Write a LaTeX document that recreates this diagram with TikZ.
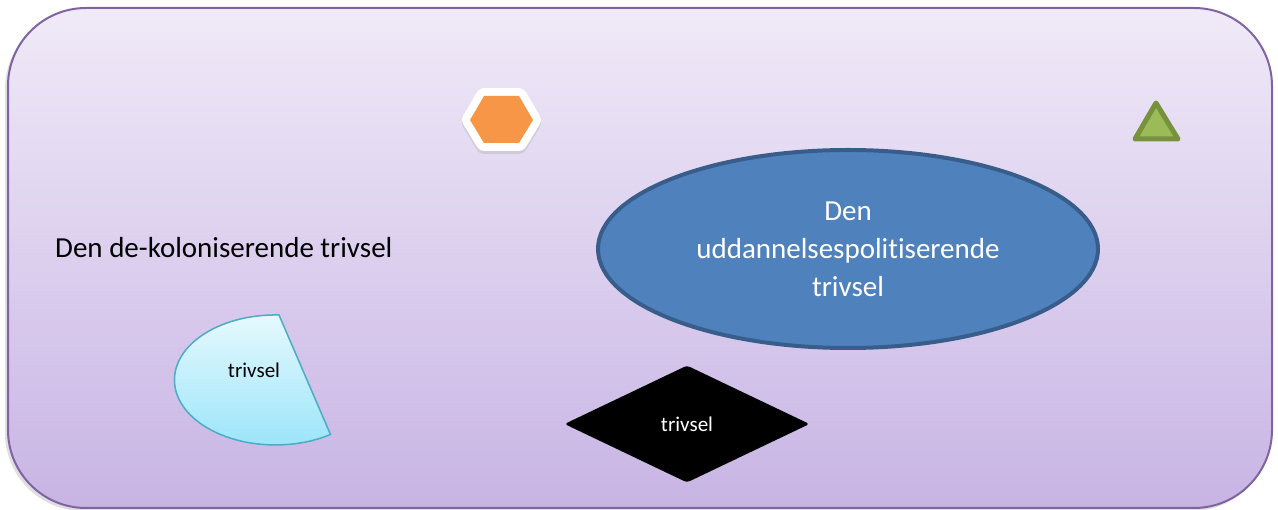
\documentclass[tikz,border=0pt]{standalone}
\usepackage{fontspec}
\setmainfont{Carlito}[RawFeature={-liga;-clig;-calt;-dlig}]
\usetikzlibrary{shapes.geometric}
\usetikzlibrary{calc}
\definecolor{rammelilla}{RGB}{128,100,162}
\definecolor{lillatop}{RGB}{240,234,248}
\definecolor{lillabund}{RGB}{200,180,228}
\definecolor{orange}{RGB}{247,150,70}
\definecolor{groen}{RGB}{155,187,89}
\definecolor{groenkant}{RGB}{118,146,60}
\definecolor{blaa}{RGB}{79,129,189}
\definecolor{blaakant}{RGB}{56,93,138}
\definecolor{cyantop}{RGB}{230,249,254}
\definecolor{cyanbund}{RGB}{156,229,249}
\definecolor{cyankant}{RGB}{75,172,198}

\begin{document}
\begin{tikzpicture}[x=1pt, y=-1pt,
    stor/.style={font=\fontsize{29}{38}\selectfont},
    lille/.style={font=\fontsize{21}{25}\selectfont}]

    \useasboundingbox (0,0) rectangle (1278,510);

    % baggrundsfeltet
    \fill[black!25, opacity=0.5, rounded corners=78] (5,11) rectangle (1270,511);
    \draw[line width=2, draw=rammelilla, top color=lillatop, bottom color=lillabund, rounded corners=78] (8,8) rectangle (1272,508);

    % sekskant med hvid kant
    \draw[line width=16, black!30, opacity=0.4, line join=round] (470,123) -- (484,99) -- (519,99) -- (533,123) -- (519,146) -- (484,146) -- cycle;
    \draw[line width=16, white, line join=round] (470,120) -- (484,96) -- (519,96) -- (533,120) -- (519,143) -- (484,143) -- cycle;
    \fill[orange] (470,120) -- (484,96) -- (519,96) -- (533,120) -- (519,143) -- (484,143) -- cycle;

    % trekant
    \draw[line width=5, line join=round, fill=groen, draw=groenkant] (1156,103) -- (1178,139) -- (1135,139) -- cycle;

    % ellipse
    \node[ellipse, draw=blaakant, line width=4, fill=blaa, minimum width=500, minimum height=198,
          inner sep=0, text=white, align=center, stor] (uddannelse) at (848,249)
          {Den\\uddannelsespolitiserende\\trivsel};

    % venstre tekst
    \node[stor, anchor=west, inner sep=0] (kolonial) at (55,248) {Den de-koloniserende trivsel};

    % halvcirkel-figuren
    \draw[line width=1.5, draw=cyankant, top color=cyantop, bottom color=cyanbund]
        (279,315) arc[x radius=101, y radius=-65, start angle=88, end angle=303] -- cycle;
    \node[lille] (trivselA) at (254,370) {trivsel};

    % sort rude
    \node[diamond, fill=black, minimum width=245, minimum height=117, inner sep=0, aspect=2.1,
          rounded corners=3, text=white, lille] (trivselB) at (687,424) {trivsel};

\end{tikzpicture}
\end{document}
